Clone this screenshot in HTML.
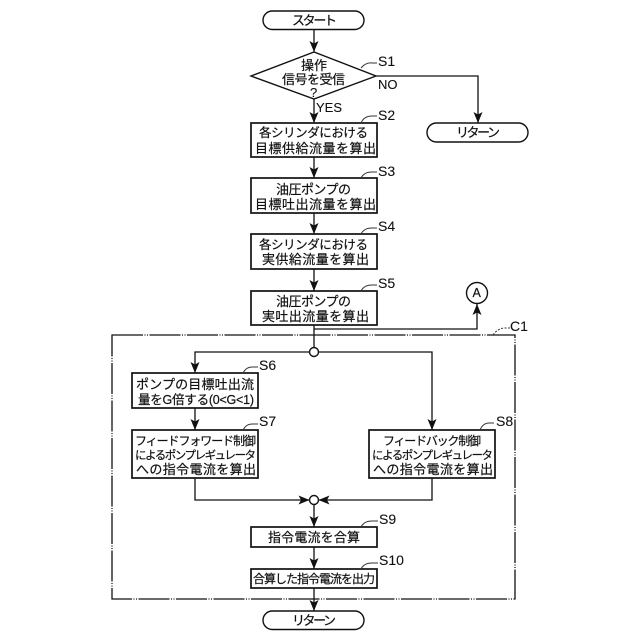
<!DOCTYPE html>
<html>
<head>
<meta charset="utf-8">
<style>
html,body{margin:0;padding:0;background:#fff;width:640px;height:640px;overflow:hidden}
svg{display:block}
text{font-family:"Liberation Sans","Noto Sans CJK JP",sans-serif;fill:#111;stroke:#111;stroke-width:.2;font-size:13px}
.l{font-size:14px;stroke-width:.1}
.s{font-size:13px;stroke-width:.1}
.m{font-size:12.500px}
.n{font-size:12px}
.v{font-size:11.500px}
.b{fill:#fff;stroke:#111;stroke-width:1.700}
.p{fill:#fff;stroke:#111;stroke-width:1.400}
.c{fill:none;stroke:#111;stroke-width:1.300}
.t{fill:none;stroke:#333;stroke-width:1}
.h{fill:#111;stroke:none}
</style>
</head>
<body>
<svg width="640" height="640" viewBox="0 0 640 640" xmlns="http://www.w3.org/2000/svg">
<!-- C1 dashed frame -->
<rect x="112" y="335" width="403" height="264" fill="none" stroke="#111" stroke-width="1.300" stroke-dasharray="31 1.500 1 1.500 1 1.500"/>
<!-- connectors -->
<path class="c" d="M314 29V52M314 99V123M314 157V178M314 213V234M314 269V291M314 325V347.500M314 329H477V304M376 76H478V123"/>
<path class="c" d="M309.500 352H195V373M318.500 352H432V430M195 408V430M195 478V500H309.500M432 478V500H318.500M314 504.500V527M314 547V569M314 588V611"/>
<!-- arrowheads -->
<path class="h" d="M309.500 41L314 52L318.500 41L314 43.500Z"/>
<path class="h" d="M309.500 112L314 123L318.500 112L314 114.500Z"/>
<path class="h" d="M309.500 167L314 178L318.500 167L314 169.500Z"/>
<path class="h" d="M309.500 223L314 234L318.500 223L314 225.500Z"/>
<path class="h" d="M309.500 280L314 291L318.500 280L314 282.500Z"/>
<path class="h" d="M473.500 112L478 123L482.500 112L478 114.500Z"/>
<path class="h" d="M472.500 315L477 304L481.500 315L477 312.500Z"/>
<path class="h" d="M190.500 362L195 373L199.500 362L195 364.500Z"/>
<path class="h" d="M427.500 419L432 430L436.500 419L432 421.500Z"/>
<path class="h" d="M190.500 419L195 430L199.500 419L195 421.500Z"/>
<path class="h" d="M298.500 495.500L309.500 500L298.500 504.500L301 500Z"/>
<path class="h" d="M329.500 495.500L318.500 500L329.500 504.500L327 500Z"/>
<path class="h" d="M309.500 516L314 527L318.500 516L314 518.500Z"/>
<path class="h" d="M309.500 558L314 569L318.500 558L314 560.500Z"/>
<path class="h" d="M309.500 600L314 611L318.500 600L314 602.500Z"/>
<!-- shapes -->
<rect class="p" x="263" y="11" width="101" height="18.500" rx="9.250"/>
<polygon class="p" points="251,76 314,52 376,76 314,99"/>
<rect class="p" x="427" y="123" width="101" height="19" rx="9.500"/>
<rect class="b" x="251" y="123" width="126" height="34"/>
<rect class="b" x="251" y="178" width="126" height="35"/>
<rect class="b" x="251" y="234" width="126" height="35"/>
<rect class="b" x="251" y="291" width="126" height="34"/>
<circle class="p" cx="477" cy="293" r="10.500"/>
<circle class="p" cx="314" cy="352" r="4.500"/>
<rect class="b" x="132" y="373" width="126" height="35"/>
<rect class="b" x="132" y="430" width="126" height="48"/>
<rect class="b" x="369" y="430" width="126" height="48"/>
<circle class="p" cx="314" cy="500" r="4.500"/>
<rect class="b" x="251" y="527" width="126" height="20"/>
<rect class="b" x="251" y="569" width="126" height="19"/>
<rect class="p" x="263" y="611" width="101" height="18.500" rx="9.250"/>
<!-- tag curves -->
<path class="t" d="M361 68Q366 62 372 63H377"/>
<path class="t" d="M361 123Q364 116 372 116H377"/>
<path class="t" d="M361 178Q364 172 372 172H377"/>
<path class="t" d="M361 234Q364 228 372 228H377"/>
<path class="t" d="M361 291Q364 285 372 285H377"/>
<path class="t" d="M243 373Q246 367 252 367H258"/>
<path class="t" d="M243 430Q246 424 252 424H258"/>
<path class="t" d="M480 430Q483 423 489 423H494"/>
<path class="t" d="M361 527Q364 521 372 521H378"/>
<path class="t" d="M361 569Q364 563 372 563H378"/>
<path class="t" stroke-dasharray="2 1.500" d="M493 335Q498 328 505 328H510"/>
<!-- step labels -->
<text class="l" x="378" y="66">S1</text>
<text class="l" x="378" y="120">S2</text>
<text class="l" x="378" y="176">S3</text>
<text class="l" x="378" y="231">S4</text>
<text class="l" x="378" y="288">S5</text>
<text class="l" x="259" y="370">S6</text>
<text class="l" x="259" y="426">S7</text>
<text class="l" x="496" y="426">S8</text>
<text class="l" x="379" y="524">S9</text>
<text class="l" x="379" y="565">S10</text>
<text class="l" x="510" y="331">C1</text>
<text class="s" x="378" y="89">NO</text>
<text class="s" x="316" y="112">YES</text>
<!-- node text -->
<text x="292" y="25" textLength="45">スタート</text>
<text x="456" y="137" textLength="44">リターン</text>
<text x="292" y="625" textLength="44">リターン</text>
<text x="301" y="70" textLength="26">操作</text>
<text x="282" y="84" textLength="63">信号を受信</text>
<text class="s" x="310" y="97">?</text>
<text class="m" x="259" y="137" textLength="109">各シリンダにおける</text>
<text x="255" y="153" textLength="121">目標供給流量を算出</text>
<text x="276" y="194" textLength="75">油圧ポンプの</text>
<text x="255" y="209" textLength="121">目標吐出流量を算出</text>
<text class="m" x="259" y="249" textLength="109">各シリンダにおける</text>
<text x="262" y="264" textLength="107">実供給流量を算出</text>
<text x="276" y="306" textLength="75">油圧ポンプの</text>
<text x="262" y="321" textLength="107">実吐出流量を算出</text>
<text x="136" y="389" textLength="118">ポンプの目標吐出流</text>
<text class="m" x="138" y="404" textLength="116">量をG倍する(0&lt;G&lt;1)</text>
<text class="n" x="135" y="445" textLength="121">フィードフォワード制御</text>
<text class="v" x="135" y="459" textLength="121">によるポンプレギュレータ</text>
<text x="136" y="474" textLength="120">への指令電流を算出</text>
<text class="n" x="383" y="445" textLength="98">フィードバック制御</text>
<text class="v" x="372" y="459" textLength="121">によるポンプレギュレータ</text>
<text x="373" y="474" textLength="120">への指令電流を算出</text>
<text x="268" y="542" textLength="92">指令電流を合算</text>
<text class="n" x="253" y="583" textLength="122">合算した指令電流を出力</text>
<text class="m" x="472.500" y="297">A</text>
</svg>
</body>
</html>
